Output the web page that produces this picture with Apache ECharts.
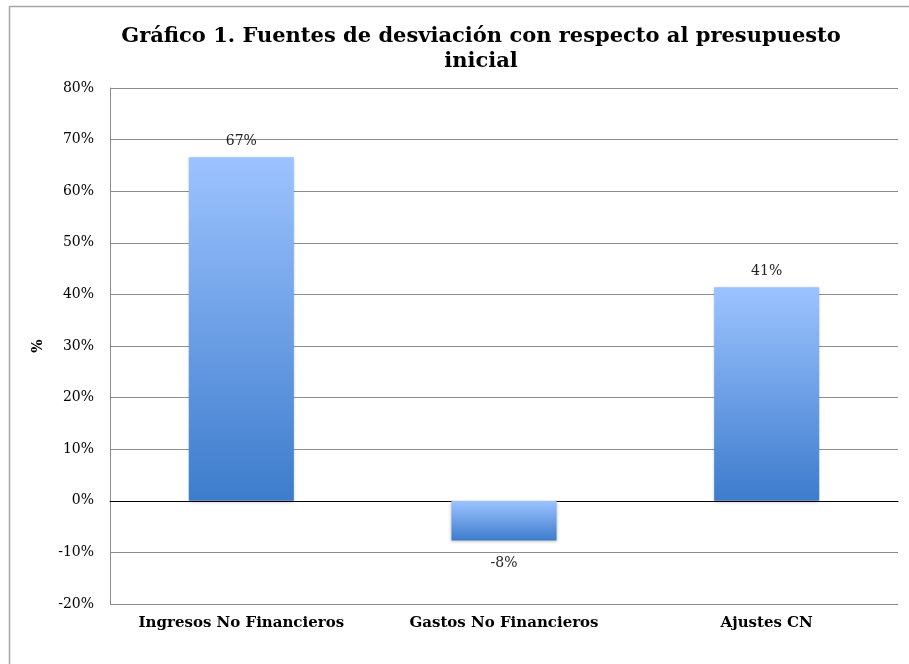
<!DOCTYPE html>
<html>
<head>
<meta charset="utf-8">
<script src="https://cdn.jsdelivr.net/npm/echarts@6/dist/echarts.min.js"></script>
<style>html,body{margin:0;padding:0;background:#fff}#c{width:909px;height:664px}</style>
</head>
<body>
<div id="c"></div>
<script>
const categories = ['Ingresos No Financieros', 'Gastos No Financieros', 'Ajustes CN'];
const values = [66.6, -7.7, 41.4];
const yTicks = { min: -20, max: 80, interval: 10 };
const titleText = 'Gráfico 1. Fuentes de desviación con respecto al presupuesto\ninicial';
const yAxisName = '%';

const SERIF = '"DejaVu Serif", "Liberation Serif", serif';
const chart = echarts.init(document.getElementById('c'), null, { renderer: 'canvas' });
chart.setOption({
  animation: false,
  backgroundColor: '#fff',
  graphic: [{
    type: 'rect', left: 7, top: 4, silent: true,
    shape: { width: 1000, height: 1000 },
    style: { fill: 'none', stroke: '#a6a6a6', lineWidth: 1.5 }
  }],
  title: {
    text: titleText,
    left: 476, top: 19, textAlign: 'center',
    textStyle: { fontFamily: SERIF, fontWeight: 'bold', fontSize: 21, lineHeight: 25, color: '#000' }
  },
  grid: { left: 110, right: 11, top: 88, bottom: 60, containLabel: false },
  xAxis: {
    type: 'category', data: categories,
    axisLine: { onZero: true, lineStyle: { color: '#000', width: 1 } },
    axisTick: { show: false },
    axisLabel: {
      interval: 0, fontFamily: SERIF, fontWeight: 'bold', fontSize: 15, color: '#000',
      margin: 12
    }
  },
  yAxis: {
    type: 'value', min: yTicks.min, max: yTicks.max, interval: yTicks.interval,
    name: yAxisName, nameLocation: 'middle', nameGap: 65, nameRotate: 90,
    nameTextStyle: { fontFamily: SERIF, fontWeight: 'bold', fontSize: 14, color: '#000' },
    axisLine: { show: true, lineStyle: { color: '#8c8c8c', width: 1 } },
    axisTick: { show: false },
    splitLine: { show: true, lineStyle: { color: '#8c8c8c', width: 1 } },
    axisLabel: { fontFamily: SERIF, fontSize: 14, color: '#000', margin: 16, formatter: v => v + '%' }
  },
  series: [{
    type: 'bar',
    data: values.map(v => v < 0 ? { value: v, label: { distance: 16 } } : v),
    barWidth: '40%',
    itemStyle: {
      color: new echarts.graphic.LinearGradient(0, 0, 0, 1, [
        { offset: 0, color: '#9dc3ff' },
        { offset: 1, color: '#3d7ccc' }
      ]),
      shadowColor: 'rgba(0,0,0,0.25)', shadowBlur: 3, shadowOffsetY: 1
    },
    label: {
      show: true, position: 'outside', distance: 9,
      fontFamily: SERIF, fontSize: 14, color: '#222',
      formatter: p => Math.round(p.value) + '%'
    }
  }]
});
</script>
</body>
</html>
